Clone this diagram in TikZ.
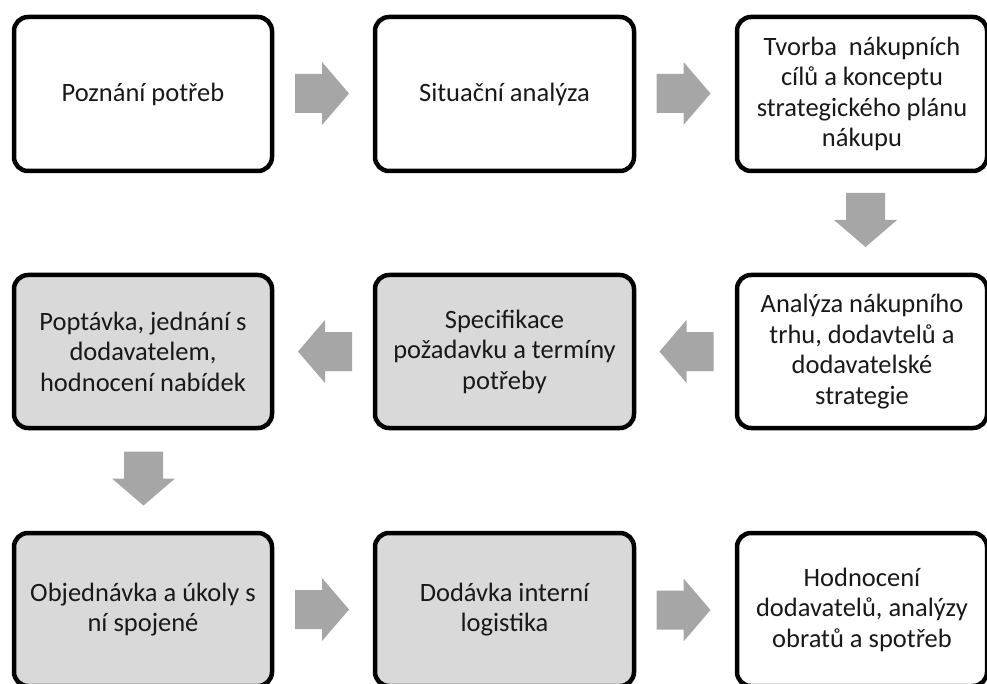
\documentclass[tikz,border=0pt]{standalone}
\usepackage{fontspec}
\setmainfont{Carlito}
\definecolor{boxgray}{HTML}{D9D9D9}
\definecolor{arrgray}{HTML}{A6A6A6}
\tikzset{
  stagebox/.style={draw=black, line width=4.5pt, rounded corners=14pt, align=center,
    inner sep=0pt, text=black!90, font=\fontsize{26.5pt}{30.5pt}\selectfont},
  whitebox/.style={stagebox, fill=white},
  graybox/.style={stagebox, fill=boxgray},
  blockarr/.pic={
    \fill[arrgray] (-27,-19.5) -- (0,-19.5) -- (0,-31.5) -- (27,0) -- (0,31.5)
      -- (0,19.5) -- (-27,19.5) -- cycle;
    \coordinate (-tip) at (27,0);
  },
}
\begin{document}
\begin{tikzpicture}[x=1pt,y=-1pt]
\useasboundingbox (0,0) rectangle (987,684);
\clip (0,0) rectangle (987,684);
% row 1
\node[whitebox, minimum width=258pt, minimum height=154pt] (b1) at (143,94) {Poznání potřeb};
\node[whitebox, minimum width=259pt, minimum height=154pt] (b2) at (504.5,94) {Situační analýza};
\node[whitebox, minimum width=250pt, minimum height=154pt] (b3) at (862,94) {Tvorba\ \ nákupních\\cílů a konceptu\\strategického plánu\\nákupu};
% row 2
\node[whitebox, minimum width=250pt, minimum height=153pt] (b4) at (862,351.5) {Analýza nákupního\\trhu, dodavtelů a\\dodavatelské\\strategie};
\node[graybox, minimum width=259pt, minimum height=153pt] (b5) at (504.5,351.5) {Specifikace\\požadavku a termíny\\potřeby};
\node[graybox, minimum width=258pt, minimum height=153pt] (b6) at (143,351.5) {Poptávka, jednání s\\dodavatelem,\\hodnocení nabídek};
% row 3
\node[graybox, minimum width=258pt, minimum height=153pt] (b7) at (143,609.5) {Objednávka a úkoly s\\ní spojené};
\node[graybox, minimum width=259pt, minimum height=153pt] (b8) at (504.5,609.5) {Dodávka interní\\logistika};
\node[whitebox, minimum width=250pt, minimum height=153pt] (b9) at (862,609.5) {Hodnocení\\dodavatelů, analýzy\\obratů a spotřeb};
% block arrows
\pic (a1) at (322,93.5) {blockarr};
\pic (a2) at (683.5,93.5) {blockarr};
\pic[rotate=-90] (a3) at (865.5,220) {blockarr};
\pic[rotate=180] (a4) at (686.5,351.5) {blockarr};
\pic[rotate=180] (a5) at (325,351.5) {blockarr};
\pic[rotate=-90] (a6) at (143.5,478.5) {blockarr};
\pic (a7) at (322,609.5) {blockarr};
\pic (a8) at (683.5,610) {blockarr};
\end{tikzpicture}
\end{document}
